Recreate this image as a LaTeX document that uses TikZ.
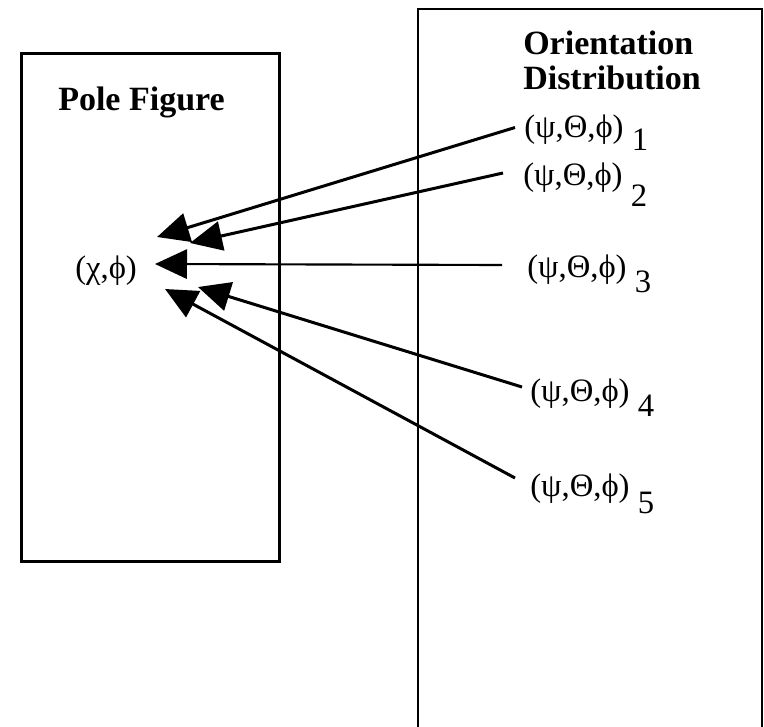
\documentclass[tikz,border=0pt]{standalone}
\usepackage{fontspec}
\setmainfont{Liberation Serif}
\usetikzlibrary{arrows.meta}

\newcommand{\eul}[2]{(ψ,Θ,ϕ) \raisebox{-#2pt}{#1}}

\begin{document}
\begin{tikzpicture}[x=0.75pt, y=-0.75pt,
  ttl/.style={font=\fontsize{25.5}{26.25}\selectfont\bfseries, inner sep=0, anchor=base west},
  lbl/.style={font=\fontsize{24.5}{28}\selectfont, inner sep=0, anchor=base west},
  arr/.style={line width=2.25pt, -{Triangle[length=24pt, width=22pt]}}]
  \useasboundingbox (0,0) rectangle (764,727);

  % boxes
  \draw[line width=2.25pt] (21,54) rectangle (279,561);
  \draw[line width=1.6pt] (418,727) -- (418,9) -- (762,9) -- (762,727);

  % titles
  \node[ttl] (pf)   at (58,111) {Pole Figure};
  \node[ttl] (ori)  at (523,55) {Orientation};
  \node[ttl] (dist) at (523,90) {Distribution};

  % labels
  \node[lbl] (chi)  at (75,279)    {(χ,ϕ)};
  \node[lbl] (psi1) at (524,137.5) {\eul{1}{9.4}};
  \node[lbl] (psi2) at (523,186)   {\eul{2}{15.5}};
  \node[lbl] (psi3) at (527,277.5) {\eul{3}{11.6}};
  \node[lbl] (psi4) at (530,401.5) {\eul{4}{11.6}};
  \node[lbl] (psi5) at (530,496.5) {\eul{5}{12.4}};

  % arrow tips near (chi)
  \coordinate (t1) at (157,237);
  \coordinate (t2) at (190,243);
  \coordinate (t3) at (155,264);
  \coordinate (t4) at (198,287);
  \coordinate (t5) at (165,289);

  \draw[arr] ([shift={(-9,-10)}]psi1.base west) -- (t1);
  \draw[arr] ([shift={(-20,-13)}]psi2.base west) -- (t2);
  \draw[arr, line width=1.6pt] ([shift={(-25,-12.5)}]psi3.base west) -- (t3);
  \draw[arr] ([shift={(-8,-14.5)}]psi4.base west) -- (t4);
  \draw[arr] ([shift={(-15,-18.5)}]psi5.base west) -- (t5);
\end{tikzpicture}
\end{document}
